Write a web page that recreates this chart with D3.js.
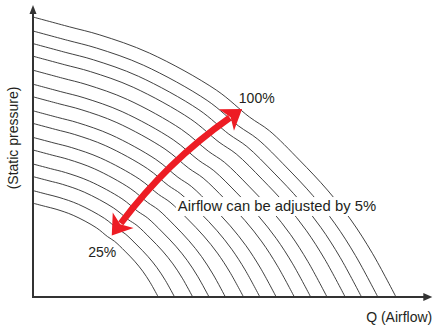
<!DOCTYPE html>
<html lang="en">
<head>
<meta charset="UTF-8">
  <title>Fan curves - airflow adjustment</title>
  <script src="https://d3js.org/d3.v7.min.js"></script>
  <style>
    body { margin: 0; background: #fff; }
    svg {
      font-family: "Liberation Sans", Arial, sans-serif;
      background-color: #fff;
    }
    .label { font-size: 14px; fill: #231f20; }
    .note { font-size: 14.8px; }
  </style>
</head>
<body>

<div id="chart"></div>

<script>
  // Data: one curve per speed step, intercepts
  const shutoffPressure = [33.5, 38, 43, 47.5, 52.5, 57, 62, 66.5, 71.5, 76, 81, 86, 90.5, 95, 100];
  const freeAirflow     = [34.5, 39, 44, 48.5, 53, 58, 62.5, 67, 72, 76.5, 81, 86, 90.5, 95, 100];

  // normalised curve shape (fraction of free airflow, fraction of shut-off pressure)
  const shapeQ = [0, 0.10, 0.184, 0.321, 0.505, 0.596, 0.651, 0.734, 0.811, 0.876, 0.935, 1];
  const shapeP = [1, 0.965, 0.936, 0.871, 0.739, 0.643, 0.594, 0.489, 0.382, 0.275, 0.156, 0];

  // annotations (data units)
  const speedLabels = [
    { text: "25%",  q: 15.2, p: 14.3 },
    { text: "100%", q: 56.7, p: 69.3 }
  ];
  const noteText = "Airflow can be adjusted by 5%";
  const notePos = { q: 39.9, p: 30.7 };
  const arrowFrom = [21.7, 22.0], arrowCtrl = [36.9, 48.3], arrowTo = [57.6, 67.1];
  const axisTitles = { x: "Q (Airflow)", y: "(Static pressure)" };
  const axisEnd = { q: 110, p: 104.3 };

  const width = 435, height = 329;

  const svg = d3.select("#chart")
    .append("svg")
    .attr("width", width)
    .attr("height", height);

  const x = d3.scaleLinear().domain([0, 100]).range([33, 396]);
  const y = d3.scaleLinear().domain([0, 100]).range([297, 17]);

  // fan curves
  const line = d3.line()
    .x(d => x(d[0]))
    .y(d => y(d[1]))
    .curve(d3.curveCatmullRom.alpha(0.5));

  const curves = shutoffPressure.map((p0, i) =>
    shapeQ.map((q, j) => [q * freeAirflow[i], shapeP[j] * p0]));

  svg.selectAll(".curve")
    .data(curves)
    .enter()
    .append("path")
    .attr("class", "curve")
    .attr("d", line)
    .attr("fill", "none")
    .attr("stroke", "#2b2b2b")
    .attr("stroke-width", 0.9);

  // note text with white backing so curves break around it
  const note = svg.append("g");
  const noteLabel = note.append("text")
    .attr("class", "label note")
    .attr("x", x(notePos.q))
    .attr("y", y(notePos.p))
    .text(noteText);
  const bb = noteLabel.node().getBBox();
  note.insert("rect", "text")
    .attr("x", bb.x - 2)
    .attr("y", bb.y - 1)
    .attr("width", bb.width + 4)
    .attr("height", bb.height + 3)
    .attr("fill", "#fff");

  svg.selectAll(".speed")
    .data(speedLabels)
    .enter()
    .append("text")
    .attr("class", "label speed")
    .attr("x", d => x(d.q))
    .attr("y", d => y(d.p))
    .text(d => d.text);

  // red double-headed arrow
  const red = "#ed1c24";
  const P0 = [x(arrowFrom[0]), y(arrowFrom[1])];
  const C  = [x(arrowCtrl[0]), y(arrowCtrl[1])];
  const P1 = [x(arrowTo[0]), y(arrowTo[1])];

  function unit(a, b) {
    const dx = b[0] - a[0], dy = b[1] - a[1];
    const l = Math.hypot(dx, dy);
    return [dx / l, dy / l];
  }
  const dirTo = unit(C, P1);    // forward at top end
  const dirFrom = unit(C, P0);  // forward at bottom end
  const headLen = 19, headNotch = 14, headHalf = 13;

  function head(tip, d) {
    const n = [-d[1], d[0]];
    return [
      tip,
      [tip[0] - d[0] * headLen + n[0] * headHalf, tip[1] - d[1] * headLen + n[1] * headHalf],
      [tip[0] - d[0] * headNotch, tip[1] - d[1] * headNotch],
      [tip[0] - d[0] * headLen - n[0] * headHalf, tip[1] - d[1] * headLen - n[1] * headHalf]
    ];
  }

  const s0 = [P0[0] - dirFrom[0] * (headNotch + 1), P0[1] - dirFrom[1] * (headNotch + 1)];
  const s1 = [P1[0] - dirTo[0] * (headNotch + 1), P1[1] - dirTo[1] * (headNotch + 1)];
  const shaft = d3.path();
  shaft.moveTo(s0[0], s0[1]);
  shaft.quadraticCurveTo(C[0], C[1], s1[0], s1[1]);

  svg.append("path")
    .attr("d", shaft.toString())
    .attr("fill", "none")
    .attr("stroke", red)
    .attr("stroke-width", 6.5);

  svg.selectAll(".head")
    .data([head(P1, dirTo), head(P0, dirFrom)])
    .enter()
    .append("polygon")
    .attr("class", "head")
    .attr("points", d => d.map(p => p.join(",")).join(" "))
    .attr("fill", red);

  // axes with arrowheads
  const axisColor = "#333";
  svg.append("line")
    .attr("x1", x(0)).attr("y1", y(0))
    .attr("x2", x(axisEnd.q) - 6).attr("y2", y(0))
    .attr("stroke", axisColor).attr("stroke-width", 2);
  svg.append("line")
    .attr("x1", x(0)).attr("y1", y(0) + 1)
    .attr("x2", x(0)).attr("y2", y(axisEnd.p) + 6)
    .attr("stroke", axisColor).attr("stroke-width", 2);

  const xt = x(axisEnd.q), yt = y(axisEnd.p);
  svg.append("polygon")
    .attr("points", `${xt},${y(0)} ${xt - 9},${y(0) - 4} ${xt - 9},${y(0) + 4}`)
    .attr("fill", axisColor);
  svg.append("polygon")
    .attr("points", `${x(0)},${yt} ${x(0) - 3.5},${yt + 9} ${x(0) + 3.5},${yt + 9}`)
    .attr("fill", axisColor);

  // axis titles
  svg.append("text")
    .attr("class", "label")
    .attr("x", xt)
    .attr("y", y(0) + 25)
    .style("text-anchor", "end")
    .text(axisTitles.x);

  svg.append("text")
    .attr("class", "label")
    .attr("transform", `translate(18,${(y(0) + y(axisEnd.p)) / 2 - 13}) rotate(-90)`)
    .style("text-anchor", "middle")
    .text(axisTitles.y);
</script>

</body>
</html>
